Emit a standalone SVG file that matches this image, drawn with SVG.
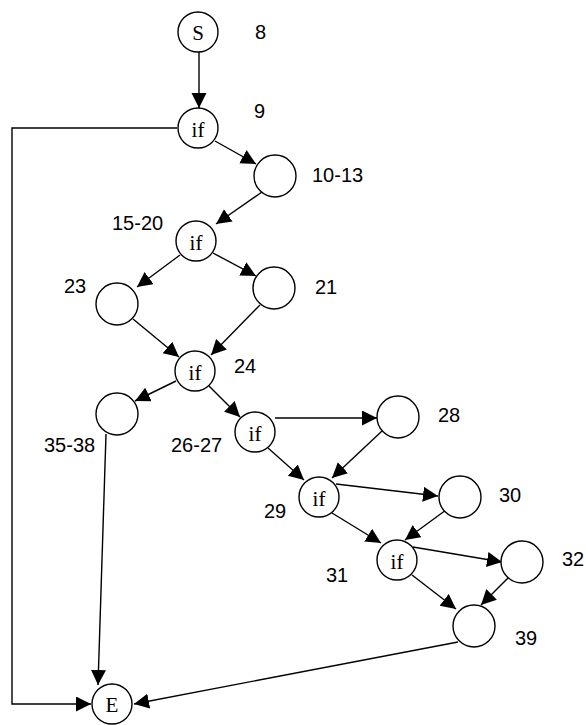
<svg xmlns="http://www.w3.org/2000/svg" width="586" height="725" viewBox="0 0 586 725">
  <style>
    .node circle { fill: #fff; stroke: #000; stroke-width: 1.4; }
    .node text { font-family: "Liberation Serif", "Times New Roman", serif; font-size: 21px; text-anchor: middle; fill: #000; }
    .lbl { font-family: "Liberation Sans", Arial, sans-serif; font-size: 20px; fill: #000; }
    #edges line, #edges polyline { stroke: #000; stroke-width: 1.4; fill: none; marker-end: url(#arrow); }
  </style>
  <defs>
    <marker id="arrow" markerUnits="userSpaceOnUse" markerWidth="17" markerHeight="17" refX="15" refY="7.5" orient="auto">
      <path d="M0,0 L15,7.5 L0,15 Z" fill="#000"/>
    </marker>
  </defs>
  <rect width="586" height="725" fill="#fff"/>

  <g id="edges">
    <line x1="199" y1="52" x2="199" y2="108"/>
    <polyline points="177,128 12,128 12,704 91,704"/>
    <line x1="215" y1="141" x2="256" y2="164"/>
    <line x1="262" y1="192" x2="216" y2="224"/>
    <line x1="180" y1="255" x2="137" y2="287"/>
    <line x1="213" y1="253" x2="256" y2="276"/>
    <line x1="133" y1="319" x2="179" y2="357"/>
    <line x1="260" y1="305" x2="211" y2="355"/>
    <line x1="176" y1="381" x2="135" y2="401"/>
    <line x1="209" y1="386" x2="240" y2="417"/>
    <line x1="275" y1="418" x2="377" y2="418"/>
    <line x1="268" y1="448" x2="304" y2="480"/>
    <line x1="382" y1="431" x2="332" y2="478"/>
    <line x1="336" y1="484" x2="438" y2="496"/>
    <line x1="332" y1="513" x2="381" y2="543"/>
    <line x1="446" y1="510" x2="405" y2="540"/>
    <line x1="413" y1="547" x2="502" y2="562"/>
    <line x1="412" y1="575" x2="456" y2="609"/>
    <line x1="508" y1="578" x2="481" y2="605"/>
    <line x1="106" y1="434" x2="98" y2="685"/>
    <line x1="458" y1="642" x2="134" y2="704"/>
  </g>

  <g id="n-s" class="node"><circle cx="198" cy="32" r="20"/><text x="198" y="40">S</text></g>
  <g id="n-9" class="node"><circle cx="198" cy="128" r="20"/><text x="198" y="137">if</text></g>
  <g id="n-10-13" class="node"><circle cx="275" cy="176" r="21"/></g>
  <g id="n-15-20" class="node"><circle cx="196" cy="241" r="20"/><text x="196" y="250">if</text></g>
  <g id="n-23" class="node"><circle cx="117" cy="304" r="21"/></g>
  <g id="n-21" class="node"><circle cx="274" cy="288" r="21"/></g>
  <g id="n-24" class="node"><circle cx="195" cy="371" r="20"/><text x="195" y="380">if</text></g>
  <g id="n-35-38" class="node"><circle cx="117" cy="414" r="21"/></g>
  <g id="n-26-27" class="node"><circle cx="255" cy="432" r="20"/><text x="255" y="441">if</text></g>
  <g id="n-28" class="node"><circle cx="398" cy="417" r="21"/></g>
  <g id="n-29" class="node"><circle cx="319" cy="497" r="20"/><text x="319" y="506">if</text></g>
  <g id="n-30" class="node"><circle cx="460" cy="497" r="21"/></g>
  <g id="n-31" class="node"><circle cx="397" cy="560" r="20"/><text x="397" y="569">if</text></g>
  <g id="n-32" class="node"><circle cx="522" cy="562" r="21"/></g>
  <g id="n-39" class="node"><circle cx="474" cy="626" r="21"/></g>
  <g id="n-e" class="node"><circle cx="112" cy="704" r="20"/><text x="112" y="712">E</text></g>

  <g id="labels">
    <text class="lbl" x="255" y="39">8</text>
    <text class="lbl" x="254" y="118">9</text>
    <text class="lbl" x="312" y="182">10-13</text>
    <text class="lbl" x="112" y="230">15-20</text>
    <text class="lbl" x="64" y="293">23</text>
    <text class="lbl" x="315" y="294">21</text>
    <text class="lbl" x="234" y="373">24</text>
    <text class="lbl" x="44" y="452">35-38</text>
    <text class="lbl" x="171" y="452">26-27</text>
    <text class="lbl" x="438" y="422">28</text>
    <text class="lbl" x="264" y="518">29</text>
    <text class="lbl" x="499" y="502">30</text>
    <text class="lbl" x="326" y="582">31</text>
    <text class="lbl" x="562" y="566">32</text>
    <text class="lbl" x="515" y="645">39</text>
  </g>
</svg>
